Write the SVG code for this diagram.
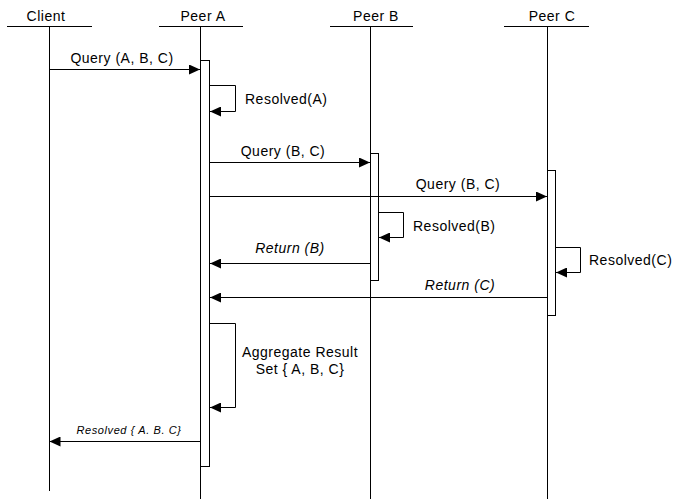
<svg xmlns="http://www.w3.org/2000/svg" width="674" height="499" viewBox="0 0 674 499">
<style>
text{font-family:"Liberation Sans",Arial,sans-serif;font-size:14px;fill:#000;letter-spacing:0.5px}
.it{font-style:italic}
.sm{font-size:11px;letter-spacing:0.6px}
.line{stroke:#000;stroke-width:1;fill:none}
.act{stroke:#000;stroke-width:1;fill:#fff}
</style>
<defs>
<marker id="ah" markerWidth="12" markerHeight="10" refX="11" refY="5" orient="auto" markerUnits="userSpaceOnUse">
<path d="M0,0 L11,5 L0,10 Z" fill="#000"/>
</marker>
</defs>
<g id="client">
<line class="line" x1="7" y1="26.5" x2="92" y2="26.5"/>
<line class="line" x1="49.5" y1="26" x2="49.5" y2="491"/>
<text x="46" y="21" text-anchor="middle">Client</text>
</g>
<g id="peerA">
<line class="line" x1="159" y1="26.5" x2="243" y2="26.5"/>
<line class="line" x1="200.5" y1="26" x2="200.5" y2="499"/>
<rect class="act" x="200.5" y="60.5" width="9" height="406"/>
<text x="203" y="21" text-anchor="middle">Peer A</text>
</g>
<g id="peerB">
<line class="line" x1="330" y1="26.5" x2="413" y2="26.5"/>
<line class="line" x1="370.5" y1="26" x2="370.5" y2="499"/>
<rect class="act" x="370.5" y="153.5" width="8" height="127"/>
<text x="376" y="21" text-anchor="middle">Peer B</text>
</g>
<g id="peerC">
<line class="line" x1="504" y1="26.5" x2="589" y2="26.5"/>
<line class="line" x1="547.5" y1="26" x2="547.5" y2="499"/>
<rect class="act" x="547.5" y="170.5" width="8" height="145"/>
<text x="552" y="21" text-anchor="middle">Peer C</text>
</g>
<g id="connectors">
<line class="line" x1="49.5" y1="69.5" x2="200" y2="69.5" marker-end="url(#ah)"/>
<text x="122" y="63" text-anchor="middle">Query (A, B, C)</text>
<polyline class="line" points="210,85.5 235.5,85.5 235.5,111.5 210,111.5" marker-end="url(#ah)"/>
<text x="245" y="104">Resolved(A)</text>
<line class="line" x1="210" y1="162.5" x2="370" y2="162.5" marker-end="url(#ah)"/>
<text x="283" y="156" text-anchor="middle">Query (B, C)</text>
<line class="line" x1="209" y1="196.5" x2="547" y2="196.5" marker-end="url(#ah)"/>
<text x="458" y="189" text-anchor="middle">Query (B, C)</text>
<polyline class="line" points="379,212.5 403.5,212.5 403.5,237.5 379,237.5" marker-end="url(#ah)"/>
<text x="413" y="231">Resolved(B)</text>
<line class="line" x1="370" y1="263.5" x2="210" y2="263.5" marker-end="url(#ah)"/>
<text class="it" x="290" y="253" text-anchor="middle">Return (B)</text>
<polyline class="line" points="556,247.5 580.5,247.5 580.5,272.5 556,272.5" marker-end="url(#ah)"/>
<text x="589" y="265">Resolved(C)</text>
<line class="line" x1="547" y1="297.5" x2="210" y2="297.5" marker-end="url(#ah)"/>
<text class="it" x="460" y="290" text-anchor="middle">Return (C)</text>
<polyline class="line" points="210,323.5 235.5,323.5 235.5,407.5 210,407.5" marker-end="url(#ah)"/>
<text x="300" y="357" text-anchor="middle">Aggregate Result</text>
<text x="300" y="374" text-anchor="middle">Set { A, B, C}</text>
<line class="line" x1="200" y1="441.5" x2="49.5" y2="441.5" marker-end="url(#ah)"/>
<text class="it sm" x="129" y="434" text-anchor="middle">Resolved { A. B. C}</text>
</g>
</svg>
